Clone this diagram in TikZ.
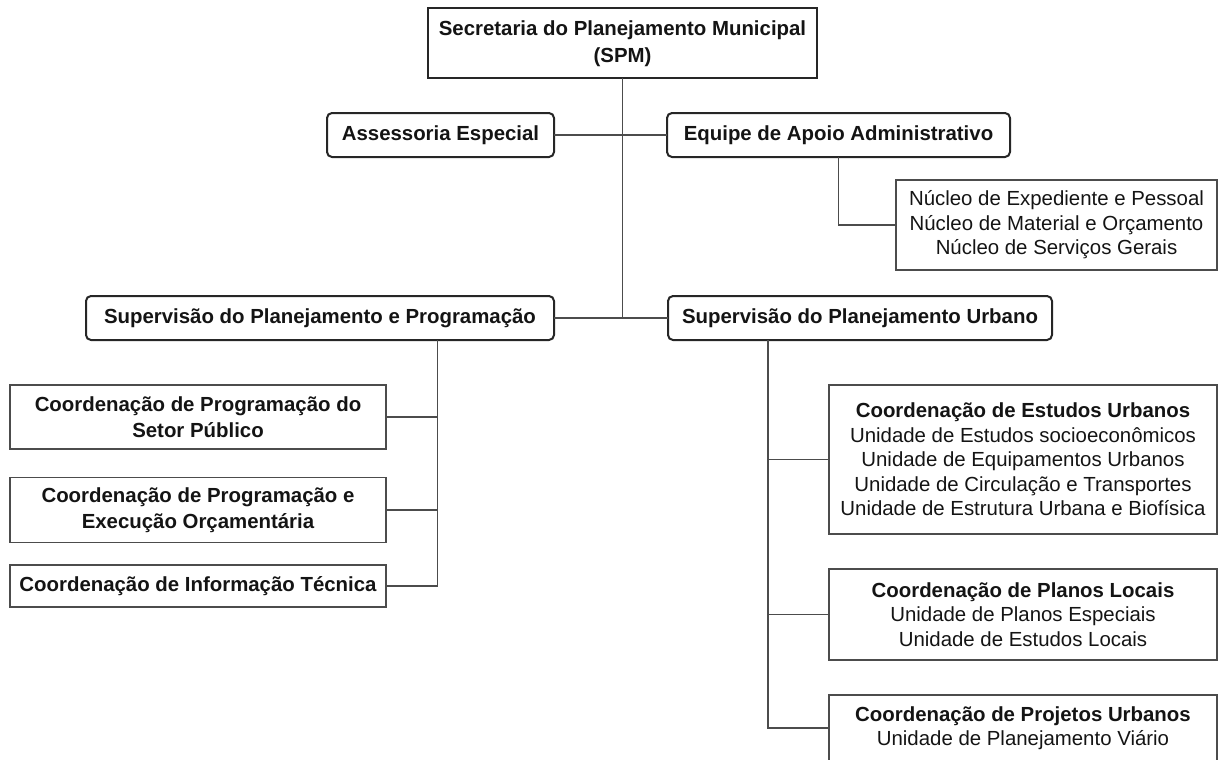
\documentclass[tikz,border=0pt]{standalone}
\usepackage{fontspec}
\setmainfont{Liberation Sans}
\begin{document}
\begin{tikzpicture}[x=1pt, y=-1pt,
  txt/.style={text=black!92, align=center, inner sep=0pt, outer sep=0pt},
  topbox/.style={txt, draw=black!85, line width=2pt,
    font=\fontsize{20.4}{27}\selectfont\bfseries},
  rbox/.style={txt, draw=black!85, line width=2pt, rounded corners=5pt,
    font=\fontsize{20.4}{24}\selectfont\bfseries},
  cbox/.style={txt, draw=black!70, line width=1.5pt,
    font=\fontsize{20.4}{26}\selectfont\bfseries},
  ubox/.style={txt, draw=black!70, line width=1.5pt,
    font=\fontsize{20.4}{24.4}\selectfont},
  link/.style={draw=black!70, line width=1.4pt}
]
\useasboundingbox (0,0) rectangle (1218,760);

% top level
\node[topbox, minimum width=389pt, minimum height=70pt] (spm) at (622.5,43.5)
  {Secretaria do Planejamento Municipal\\(SPM)};

% advisory level
\node[rbox, minimum width=227pt, minimum height=44pt] (assess) at (440.5,135)
  {Assessoria Especial};
\node[rbox, minimum width=343pt, minimum height=44pt] (equipe) at (838.5,135)
  {Equipe de Apoio Administrativo};
\node[ubox, minimum width=321pt, minimum height=90pt] (nucleo) at (1056.5,225)
  {Núcleo de Expediente e Pessoal\\Núcleo de Material e Orçamento\\Núcleo de Serviços Gerais};

% supervisions
\node[rbox, minimum width=468pt, minimum height=44pt] (suppp) at (320,318)
  {Supervisão do Planejamento e Programação};
\node[rbox, minimum width=384pt, minimum height=44pt] (supu) at (860,318)
  {Supervisão do Planejamento Urbano};

% coordinations under planning and programming
\node[cbox, minimum width=376pt, minimum height=64pt] (c1) at (198,417)
  {Coordenação de Programação do\\Setor Público};
\node[cbox, minimum width=376pt, minimum height=65pt] (c2) at (198,510)
  {Coordenação de Programação e\\Execução Orçamentária};
\node[cbox, minimum width=376pt, minimum height=42pt] (c3) at (198,586)
  {Coordenação de Informação Técnica};

% coordinations under urban planning
\node[ubox, minimum width=388pt, minimum height=149pt] (estudos) at (1023,459.5)
  {\textbf{Coordenação de Estudos Urbanos}\\Unidade de Estudos socioeconômicos\\Unidade de Equipamentos Urbanos\\Unidade de Circulação e Transportes\\Unidade de Estrutura Urbana e Biofísica};
\node[ubox, minimum width=388pt, minimum height=91pt] (planos) at (1023,614.5)
  {\textbf{Coordenação de Planos Locais}\\Unidade de Planos Especiais\\Unidade de Estudos Locais};
\node[ubox, minimum width=388pt, minimum height=66pt] (projetos) at (1023,728)
  {\textbf{Coordenação de Projetos Urbanos}\\Unidade de Planejamento Viário};

% connectors
\draw[link] (spm.south) -- (spm.south |- suppp.east);
\draw[link] (assess.east) -- (equipe.west);
\draw[link] (suppp.east) -- (supu.west);
\draw[link] (equipe.south) |- (nucleo.west);

\coordinate (lbus) at (437.5,340);
\draw[link] (lbus) |- (c3.east);
\draw[link] (c1.east) -- (c1.east -| lbus);
\draw[link] (c2.east) -- (c2.east -| lbus);

\coordinate (rbus) at (768,340);
\draw[link] (rbus) |- (projetos.west);
\draw[link] (estudos.west) -- (estudos.west -| rbus);
\draw[link] (planos.west) -- (planos.west -| rbus);
\end{tikzpicture}
\end{document}
